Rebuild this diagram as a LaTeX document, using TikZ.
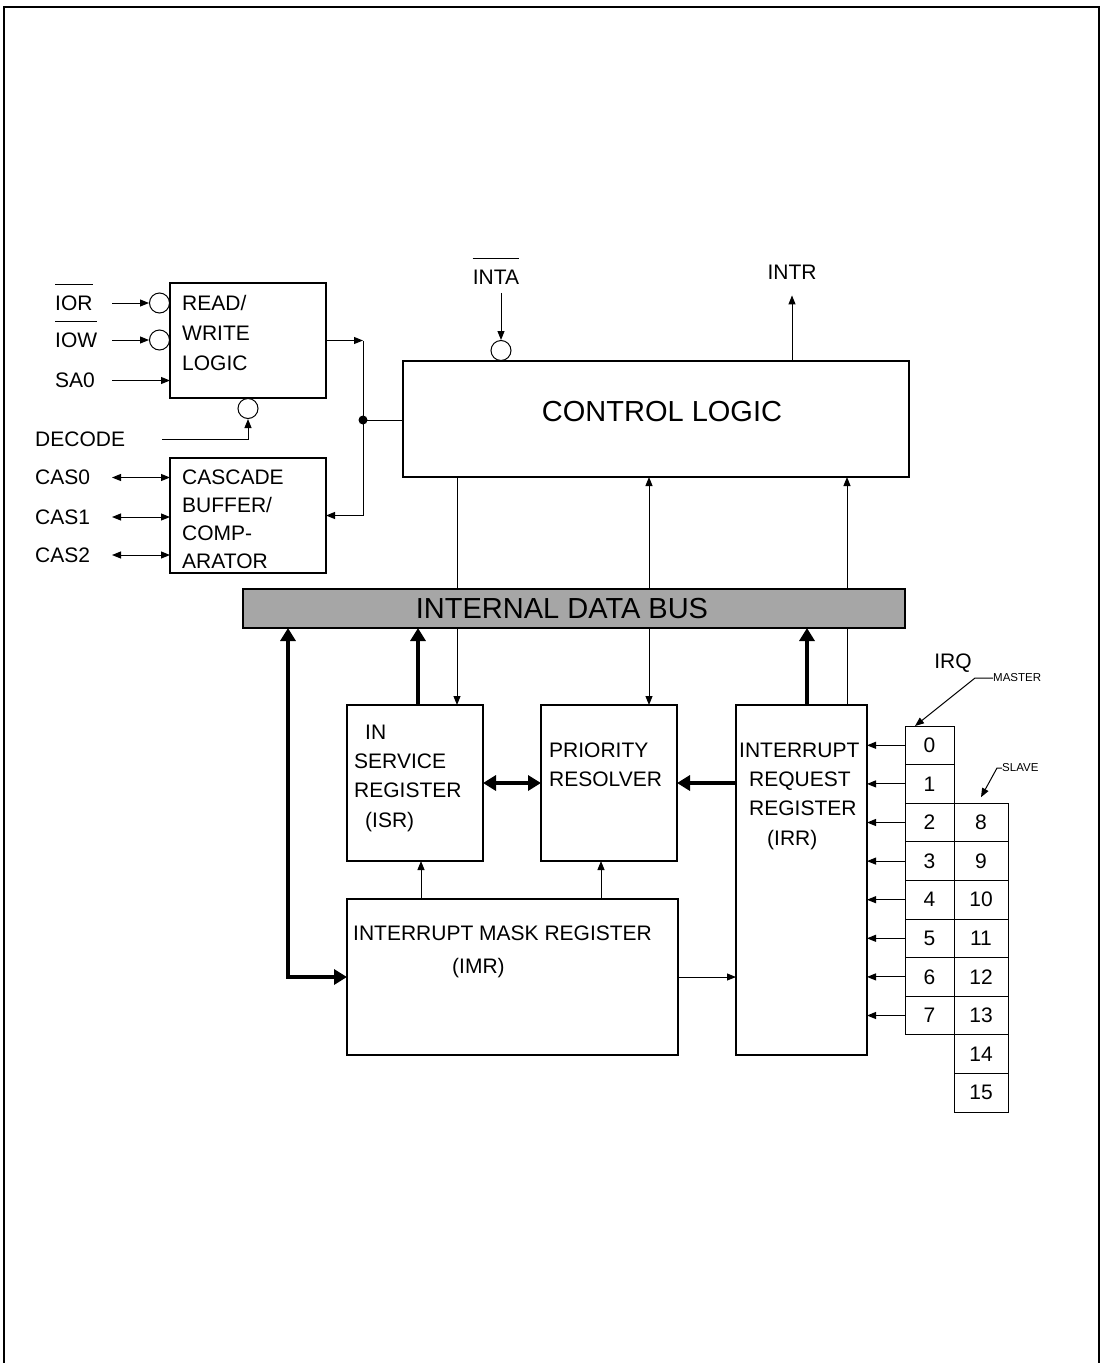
\documentclass[tikz,border=0pt]{standalone}
\usepackage{fontspec}
\setmainfont{Liberation Sans}
\usetikzlibrary{arrows.meta, positioning, calc}
\newcommand{\lblf}{\fontsize{21}{29}\selectfont}
\newcommand{\bigf}{\fontsize{29}{34}\selectfont}
\newcommand{\tinyf}{\fontsize{11.5}{13}\selectfont}

\begin{document}
\begin{tikzpicture}[x=1pt, y=-1pt, font=\lblf,
    box/.style={draw, line width=1.2pt, anchor=north west, inner sep=0pt, outer sep=0pt},
    txt/.style={align=left, inner sep=0pt},
    lbl/.style={inner sep=0pt, anchor=west},
    bub/.style={draw, circle, line width=1pt, minimum size=20pt, inner sep=0pt},
    cell/.style={draw, line width=1pt, minimum height=38.6pt, inner sep=0pt, outer sep=0pt},
    wire/.style={line width=1pt},
    arr/.style={-{Triangle[length=9pt,width=7pt]}, line width=1pt},
    arrb/.style={{Triangle[length=9pt,width=7pt]}-{Triangle[length=9pt,width=7pt]}, line width=1pt},
    thk/.style={-{Triangle[length=13pt,width=15pt]}, line width=4.5pt},
    thkb/.style={{Triangle[length=13pt,width=15pt]}-{Triangle[length=13pt,width=15pt]}, line width=4.5pt},
    ovl/.style={line width=1pt}]
    \useasboundingbox (0,0) rectangle (1104,1363);
    \draw[line width=2pt] (4,1363) -- (4,7) -- (1099,7) -- (1099,1363);

    \node[box, minimum width=156pt, minimum height=115pt] (rw) at (170,283) {};
    \node[box, minimum width=156pt, minimum height=115pt] (cas) at (170,458) {};
    \node[box, minimum width=506pt, minimum height=116pt] (ctl) at (403,361) {};
    \node[box, fill=black!35, minimum width=662pt, minimum height=39pt] (bus) at (243,589) {};
    \node[box, minimum width=136pt, minimum height=156pt] (isr) at (347,705) {};
    \node[box, minimum width=136pt, minimum height=156pt] (pr) at (541,705) {};
    \node[box, minimum width=131pt, minimum height=350pt] (irr) at (736,705) {};
    \node[box, minimum width=331pt, minimum height=156pt] (imr) at (347,899) {};

    \node[txt, below right=12.5pt and 12pt of rw.north west] (rwt) {READ/\\[1pt]WRITE\\[1pt]LOGIC};
    \node[txt, below right=11.5pt and 12pt of cas.north west] (cast) {CASCADE\\[-1pt]BUFFER/\\[-1pt]COMP-\\[-1pt]ARATOR};
    \node[txt, below right=19.5pt and 7pt of isr.north west] (isrt) {\hspace*{11pt}IN\\SERVICE\\REGISTER\\[1pt]\hspace*{11pt}(ISR)};
    \node[txt, below right=37.5pt and 8pt of pr.north west] (prt) {PRIORITY\\RESOLVER};
    \node[txt, below right=37.5pt and 3pt of irr.north west] (irrt) {INTERRUPT\\\hspace*{10pt}REQUEST\\\hspace*{10pt}REGISTER\\[1pt]\hspace*{28pt}(IRR)};
    \node[txt, below right=26.5pt and 6pt of imr.north west] (imrt) {INTERRUPT MASK REGISTER\\[4pt]\hspace*{99pt}(IMR)};
    \node[font=\bigf, inner sep=0pt] (ctlt) at ([xshift=6pt,yshift=7pt]ctl.center) {CONTROL LOGIC};
    \node[font=\bigf, inner sep=0pt] (bust) at ([xshift=-12pt]bus.center) {INTERNAL DATA BUS};

    \node[lbl] (ior) at (55,303) {IOR};
    \node[lbl] (iow) at (55,340) {IOW};
    \node[lbl] (sa0) at (55,380.5) {SA0};
    \node[lbl] (dec) at (35,439) {DECODE};
    \node[lbl] (cas0) at (35,477.5) {CAS0};
    \node[lbl] (cas1) at (35,517) {CAS1};
    \node[lbl] (cas2) at (35,555) {CAS2};
    \node[inner sep=0pt] (inta) at (496,277) {INTA};
    \node[inner sep=0pt] (intr) at (792,272) {INTR};
    \node[inner sep=0pt] (irq) at (953,663) {IRQ};
    \node[lbl, font=\tinyf] (mst) at (993,678) {MASTER};
    \node[lbl, font=\tinyf] (slv) at (1002,768) {SLAVE};
    \draw[ovl] ([yshift=10.5pt]ior.north west) -- ([yshift=10.5pt]ior.north east);
    \draw[ovl] ([yshift=10.5pt]iow.north west) -- ([yshift=10.5pt]iow.north east);
    \draw[ovl] ([yshift=11.5pt]inta.north west) -- ([yshift=11.5pt]inta.north east);

    \node[bub, anchor=east] (bior) at (rw.west |- ior) {};
    \node[bub, anchor=east] (biow) at (rw.west |- iow) {};
    \node[bub, anchor=north] (bdec) at ($(rw.south west)+(78,0)$) {};
    \node[bub, anchor=south] (bint) at ($(ctl.north west)+(98,0)$) {};

    \node[cell, minimum width=49pt, anchor=north west] (m0) at (905,726) {0};
    \foreach \i [remember=\i as \j (initially 0)] in {1,...,7}
        \node[cell, minimum width=49pt, below=0pt of m\j] (m\i) {\i};
    \node[cell, minimum width=54pt, right=0pt of m2] (s8) {8};
    \foreach \i [remember=\i as \j (initially 8)] in {9,...,15}
        \node[cell, minimum width=54pt, below=0pt of s\j] (s\i) {\i};

    \coordinate (px) at (112,0);
    \coordinate (jn) at (363,420);
    \coordinate (cA) at (288,0);
    \coordinate (cB) at (418,0);
    \coordinate (cC) at (457,0);
    \coordinate (cD) at (649,0);
    \coordinate (cE) at (807,0);
    \coordinate (cF) at (847,0);
    \coordinate (cG) at (421,0);
    \coordinate (cH) at (601,0);

    \draw[arr] (ior -| px) -- (bior);
    \draw[arr] (iow -| px) -- (biow);
    \draw[arr] (sa0 -| px) -- (sa0 -| rw.west);
    \draw[arr] ([xshift=37pt]dec.east) -| (bdec);
    \foreach \c in {cas0,cas1,cas2}
        \draw[arrb] (\c -| px) -- (\c -| cas.west);
    \draw[arr, shorten <=8.5pt] (bint |- inta.south) -- (bint);
    \draw[arr, shorten >=16pt] (intr |- ctl.north) -- (intr.south);

    \draw[arr] (rw.east) -- (rw.east -| jn);
    \draw[wire] (rw.east -| jn) -- (jn |- cas.east);
    \draw[arr] (jn |- cas.east) -- (cas.east);
    \draw[wire] (jn) -- (jn -| ctl.west);
    \fill (jn) circle (4.5pt);

    \draw[wire] (cC |- ctl.south) -- (cC |- bus.north);
    \draw[arr] (cC |- bus.south) -- (cC |- isr.north);
    \draw[arr] (cD |- bus.north) -- (cD |- ctl.south);
    \draw[arr] (cD |- bus.south) -- (cD |- pr.north);
    \draw[arr] (cF |- bus.north) -- (cF |- ctl.south);
    \draw[wire] (cF |- irr.north) -- (cF |- bus.south);
    \draw[thk] (cB |- isr.north) -- (cB |- bus.south);
    \draw[thk] (cE |- irr.north) -- (cE |- bus.south);
    \draw[thkb] (cA |- bus.south) |- (imr.west);
    \draw[thkb] (isr.east) -- (pr.west);
    \draw[thk] (irr.west |- pr.east) -- (pr.east);
    \draw[arr] (cG |- imr.north) -- (cG |- isr.south);
    \draw[arr] (cH |- imr.north) -- (cH |- pr.south);
    \draw[arr] (imr.east) -- (imr.east -| irr.west);
    \foreach \i in {0,...,7}
        \draw[arr] (m\i.west) -- (m\i.west -| irr.east);

    \draw[arr] (mst.west) -- ++(-18,0) -- ([xshift=10pt]m0.north west);
    \draw[arr] (slv.west) -- ++(-5,0) -- ([yshift=6pt]s8.north);
\end{tikzpicture}
\end{document}
